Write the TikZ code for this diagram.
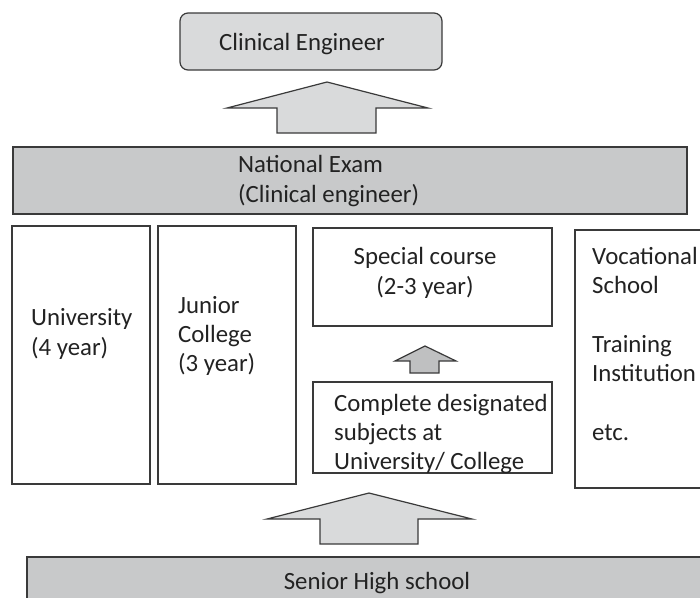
\documentclass[tikz,border=0pt]{standalone}
\usepackage{fontspec}
\setmainfont{Carlito}
\definecolor{edge}{HTML}{3A3A3A}
\definecolor{ink}{HTML}{222222}
\definecolor{lightfill}{HTML}{D9DADB}
\definecolor{midfill}{HTML}{C8C9CA}
\definecolor{darkfill}{HTML}{BFC0C1}
\begin{document}
\begin{tikzpicture}[x=1pt,y=-1pt,
  label/.style={font=\fontsize{24.8}{29.3}\selectfont, text=ink, inner sep=0pt, align=left},
  box/.style={draw=edge, line width=1.2pt, inner sep=0pt, outer sep=0pt, anchor=north west},
  blockarrow/.style={draw=edge, line width=1.2pt, line join=miter}]
\useasboundingbox (0,0) rectangle (700,597);

% top goal
\node[box, fill=lightfill, rounded corners=8pt, minimum width=262pt, minimum height=57pt]
  (goal) at (180,13) {};
\node[label, anchor=west] (goalT) at (219,44) {Clinical Engineer};

% exam banner
\node[box, fill=midfill, minimum width=674pt, minimum height=67pt] (exam) at (13,147) {};
\node[label, anchor=west] (examT) at (238,181) {National Exam\\(Clinical engineer)};

% study routes
\node[box, minimum width=138pt, minimum height=258pt] (uni) at (12,226) {};
\node[label, anchor=west] (uniT) at (31,334) {University\\(4 year)};

\node[box, minimum width=138pt, minimum height=258pt] (jc) at (158,226) {};
\node[label, anchor=west] (jcT) at (178,336) {Junior\\College\\(3 year)};

\node[box, minimum width=239pt, minimum height=98pt] (special) at (313,228) {};
\node[label, align=center] (specialT) at (425,273) {Special course\\(2-3 year)};

\node[box, minimum width=239pt, minimum height=91pt] (subj) at (313,382) {};
\node[label, anchor=west] (subjT) at (334,434) {Complete designated\\subjects at\\University/ College};

\node[box, minimum width=160pt, minimum height=258pt] (voc) at (575,230) {};
\node[label, anchor=west] (vocT) at (592,344)
  {Vocational\\School\\[29.3pt]Training\\Institution\\[29.3pt]etc.};

% school base
\node[box, fill=midfill, minimum width=700pt, minimum height=80pt] (shs) at (27,557) {};
\node[label] (shsT) at (377,583) {Senior High school};

% upward block arrows
\coordinate (tipTop) at (327,82);
\draw[blockarrow, fill=lightfill] (tipTop) -- ++(101,26) -- ++(-52,0) -- ++(0,25)
  -- ++(-99,0) -- ++(0,-25) -- ++(-50,0) -- cycle;

\coordinate (tipMid) at (425,346);
\draw[blockarrow, fill=darkfill] (tipMid) -- ++(31,15) -- ++(-17,0) -- ++(0,12)
  -- ++(-29,0) -- ++(0,-12) -- ++(-15,0) -- cycle;

\coordinate (tipLow) at (369,493);
\draw[blockarrow, fill=lightfill] (tipLow) -- ++(103,26) -- ++(-54,0) -- ++(0,25)
  -- ++(-98,0) -- ++(0,-25) -- ++(-53,0) -- cycle;
\end{tikzpicture}
\end{document}
